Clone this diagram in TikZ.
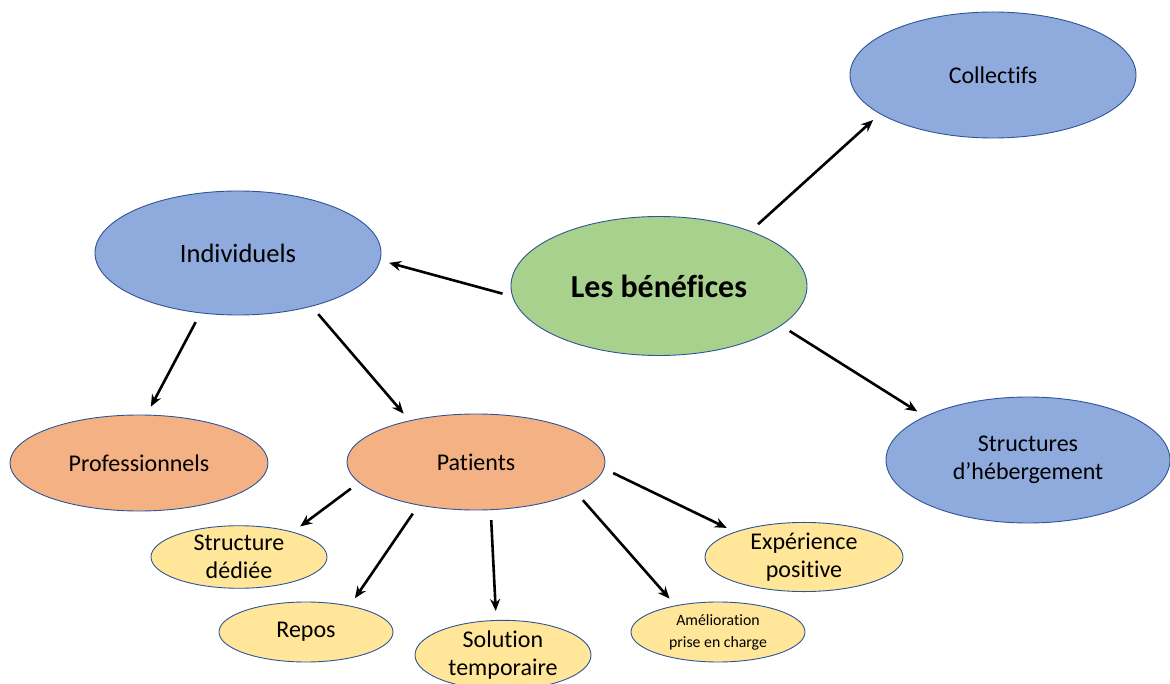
\documentclass[tikz,border=0pt]{standalone}
\usepackage{fontspec}
\setmainfont[Ligatures=NoCommon]{Carlito}
\usetikzlibrary{shapes.geometric,arrows.meta}
\definecolor{bleu}{HTML}{8FAADC}
\definecolor{vert}{HTML}{A9D18E}
\definecolor{orange}{HTML}{F4B183}
\definecolor{jaune}{HTML}{FFE699}
\definecolor{bord}{HTML}{2F5597}
\begin{document}
\begin{tikzpicture}[x=1pt,y=-1pt,line join=round,
	bulle/.style={ellipse,draw=bord,line width=0.9pt,inner sep=0pt,align=center,font=\fontsize{24}{28.5}\selectfont},
	fleche/.style={-{Stealth[length=12pt,width=10pt]},line width=2.6pt,shorten <=10pt,shorten >=9pt}]
	\useasboundingbox (0,0) rectangle (1170,684);
	% niveau 1
	\node[bulle,fill=vert,minimum width=296pt,minimum height=139pt,font=\bfseries\fontsize{32}{38}\selectfont] (ben) at (659,286) {Les bénéfices};
	\node[bulle,fill=bleu,minimum width=286pt,minimum height=126pt] (col) at (993,75) {Collectifs};
	\node[bulle,fill=bleu,minimum width=286pt,minimum height=124pt,font=\fontsize{26.5}{30}\selectfont] (ind) at (238,253) {Individuels};
	\node[bulle,fill=bleu,minimum width=284pt,minimum height=126pt] (heb) at (1028,460) {Structures\\d’hébergement};
	% niveau 2
	\node[bulle,fill=orange,minimum width=258pt,minimum height=96pt] (pro) at (139,463) {Professionnels};
	\node[bulle,fill=orange,minimum width=258pt,minimum height=96pt] (pat) at (476,462) {Patients};
	% niveau 3
	\node[bulle,fill=jaune,minimum width=176pt,minimum height=60pt] (ded) at (239,557) {Structure\\dédiée};
	\node[bulle,fill=jaune,minimum width=174pt,minimum height=60pt] (rep) at (306,632) {Repos};
	\node[bulle,fill=jaune,minimum width=176pt,minimum height=58pt] (sol) at (503,655) {Solution\\temporaire};
	\node[bulle,fill=jaune,minimum width=174pt,minimum height=60pt,font=\fontsize{15.8}{22}\selectfont] (ame) at (718,632) {Amélioration\\prise en charge};
	\node[bulle,fill=jaune,minimum width=198pt,minimum height=60pt] (exp) at (804,557) {Expérience\\positive};
	% fleches
	\draw[fleche] (ben.31) -- (col.199);
	\draw[fleche] (ben.184) -- (ind.-3);
	\draw[fleche] (ben.-18) -- (heb.157);
	\draw[fleche] (ind.238) -- (pro.81);
	\draw[fleche] (ind.-36) -- (pat.148);
	\draw[fleche] (pat.190) -- (ded.25);
	\draw[fleche] (pat.217) -- (rep.31);
	\draw[fleche] (pat.-73) -- (sol.101);
	\draw[fleche] (pat.-17) -- (ame.148);
	\draw[fleche] (pat.-3) -- (exp.160);
\end{tikzpicture}
\end{document}
